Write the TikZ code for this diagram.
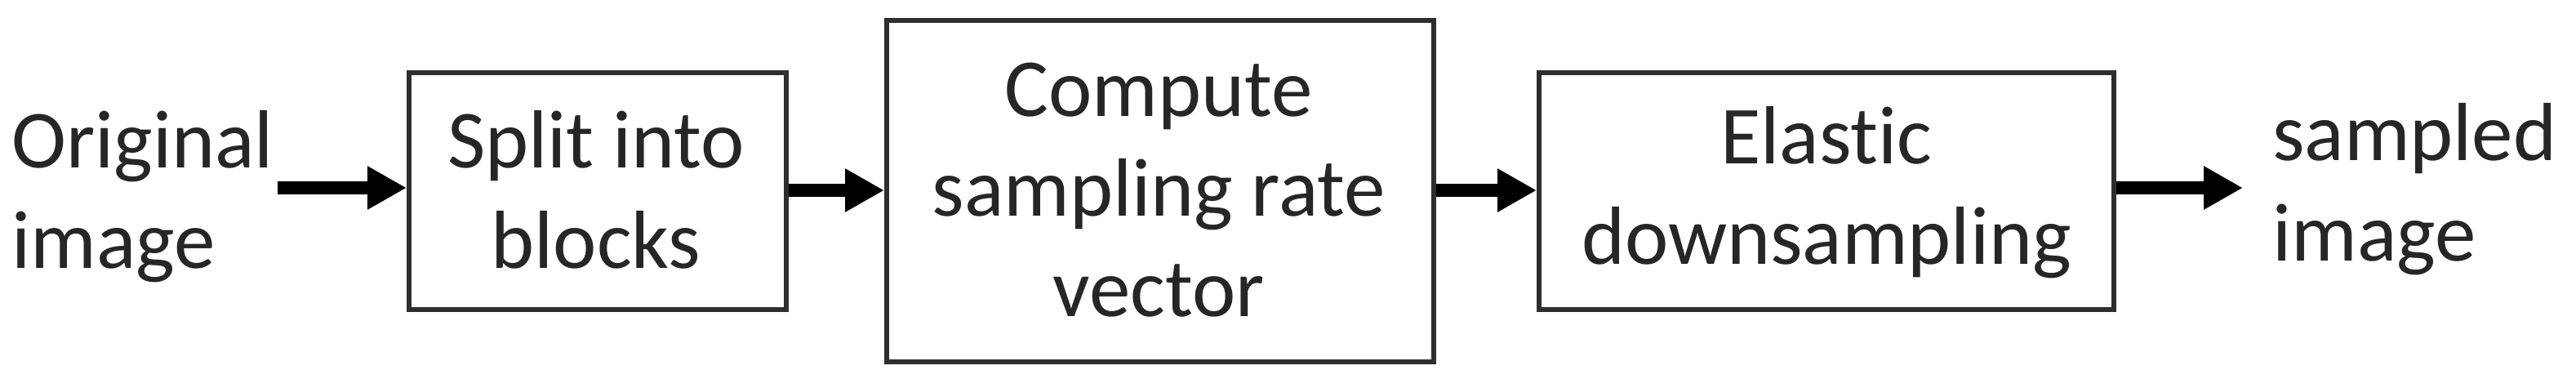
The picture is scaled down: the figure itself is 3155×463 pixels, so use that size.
\documentclass[tikz,border=0pt]{standalone}
\usepackage{fontspec}
\setmainfont[Ligatures=NoCommon]{Carlito}
\usetikzlibrary{arrows.meta}
\begin{document}
\begin{tikzpicture}[x=1pt,y=-1pt,
  blk/.style={draw=black!82, line width=6pt, fill=white, inner sep=0pt},
  txt/.style={inner sep=0pt, font=\fontsize{101}{122}\selectfont, text=black!85},
  flow/.style={line width=16pt, black, -{Triangle[length=48pt,width=50pt]}}]
\useasboundingbox (0,0) rectangle (3155,463);
% boxes
\node[blk, minimum width=462pt, minimum height=290pt] (b1) at (732,234) {};
\node[blk, minimum width=670pt, minimum height=418pt] (b2) at (1421,234) {};
\node[blk, minimum width=704pt, minimum height=290pt] (b3) at (2237,234) {};
% texts
\node[txt, anchor=base west] (in1) at (14,205) {Original};
\node[txt, anchor=base west] (in2) at (14,328) {image};
\node[txt, anchor=base] (t1a) at (730,205) {Split into};
\node[txt, anchor=base] (t1b) at (730,328) {blocks};
\node[txt, anchor=base] (t2a) at (1419,142) {Compute};
\node[txt, anchor=base] (t2b) at (1419,264) {sampling rate};
\node[txt, anchor=base] (t2c) at (1419,387) {vector};
\node[txt, anchor=base] (t3a) at (2237,200) {Elastic};
\node[txt, anchor=base] (t3b) at (2237,323) {downsampling};
\node[txt, anchor=base west] (out1) at (2783,196) {sampled};
\node[txt, anchor=base west] (out2) at (2783,319) {image};
% connectors
\coordinate (s0) at (340,230);
\coordinate (e4) at (2747,230);
\draw[flow] (s0) -- (s0 -| b1.west);
\draw[flow] (b1.east |- 0,233) -- (b2.west |- 0,233);
\draw[flow] (b2.east |- 0,233) -- (b3.west |- 0,233);
\draw[flow] (b3.east |- e4) -- (e4);
\end{tikzpicture}
\end{document}
